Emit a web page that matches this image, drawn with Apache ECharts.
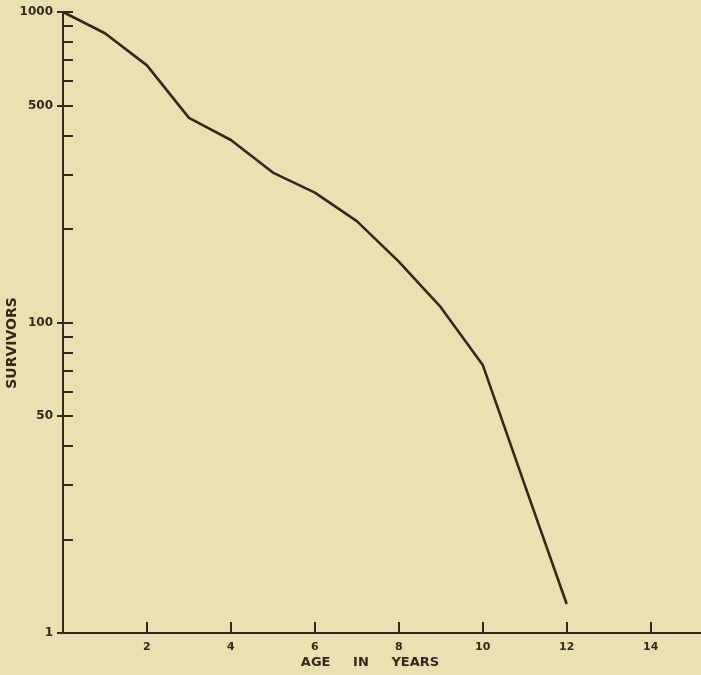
<!DOCTYPE html>
<html>
<head>
<meta charset="utf-8">
<script src="https://cdn.jsdelivr.net/npm/echarts@6/dist/echarts.min.js"></script>
<style>
html,body{margin:0;padding:0;background:#ece0b2;}
#c{width:701px;height:675px;}
</style>
</head>
<body>
<div id="c"></div>
<script>
// Data
var ages = [0, 1, 2, 3, 4, 5, 6, 7, 8, 9, 10, 11, 12];
var survivors = [1000, 854, 673, 456, 387, 304, 262, 212, 157, 112, 73, 30, 12.4];

// Tick labels
var xTickValues = [2, 4, 6, 8, 10, 12, 14];
var yLabelValues = [10, 50, 100, 500, 1000];
var yLabelTexts = ['1', '50', '100', '500', '1000'];
var yMinorValues = [20, 30, 40, 60, 70, 80, 90, 200, 300, 400, 600, 700, 800, 900];

var xTitle = 'AGE     IN     YEARS';
var yTitle = 'SURVIVORS';

var ink = '#35281a';
var font = 'DejaVu Sans';

function yLabelFor(v) {
  var best = 0, bd = Infinity;
  for (var i = 0; i < yLabelValues.length; i++) {
    var d = Math.abs(Math.log(v) - Math.log(yLabelValues[i]));
    if (d < bd) { bd = d; best = i; }
  }
  return yLabelTexts[best];
}

var chart = echarts.init(document.getElementById('c'), null, {renderer: 'canvas'});
var gridPos = {left: 63, top: 12, right: 0, bottom: 42};
var seriesData = ages.map(function (a, i) { return [a, survivors[i]]; });

chart.setOption({
  backgroundColor: '#ece0b2',
  animation: false,
  grid: [
    Object.assign({}, gridPos, {containLabel: false}),
    Object.assign({}, gridPos, {containLabel: false})
  ],
  xAxis: [
    {
      type: 'value', gridIndex: 0, min: 0, max: 15.2,
      axisLine: {show: true, lineStyle: {color: ink, width: 2}},
      axisTick: {show: true, inside: true, length: 11, lineStyle: {color: ink, width: 2}, customValues: xTickValues},
      axisLabel: {show: true, customValues: xTickValues, margin: 9, color: ink, fontFamily: font, fontWeight: 'bold', fontSize: 11},
      splitLine: {show: false}
    },
    {
      type: 'value', gridIndex: 1, min: 0, max: 15.2, show: false
    }
  ],
  yAxis: [
    {
      type: 'log', gridIndex: 0, logBase: 10, min: 10, max: 1000,
      axisLine: {show: true, lineStyle: {color: ink, width: 2}},
      axisTick: {show: true, inside: true, length: 10, lineStyle: {color: ink, width: 2},
                 customValues: yMinorValues.concat(yLabelValues)},
      axisLabel: {show: false},
      splitLine: {show: false}
    },
    {
      type: 'log', gridIndex: 1, logBase: 10, min: 10, max: 1000,
      axisLine: {show: false},
      axisTick: {show: true, inside: false, length: 6, lineStyle: {color: ink, width: 2}, customValues: yLabelValues},
      axisLabel: {show: true, customValues: yLabelValues, margin: 10, color: ink, fontFamily: font, fontWeight: 'bold', fontSize: 12,
                  formatter: function (v) { return yLabelFor(v); }},
      splitLine: {show: false}
    }
  ],
  series: [
    {
      type: 'line', xAxisIndex: 0, yAxisIndex: 0, data: seriesData,
      showSymbol: false, smooth: false,
      lineStyle: {color: ink, width: 2.6}
    }
  ],
  graphic: [
    {
      type: 'text', x: 370, y: 663,
      style: {text: xTitle, fill: ink, font: 'bold 13px "DejaVu Sans"', textAlign: 'center', textVerticalAlign: 'middle'}
    },
    {
      type: 'text', x: 12, y: 343, rotation: Math.PI / 2,
      style: {text: yTitle, fill: ink, font: 'bold 14px "DejaVu Sans"', textAlign: 'center', textVerticalAlign: 'middle'}
    }
  ]
});
</script>
</body>
</html>
